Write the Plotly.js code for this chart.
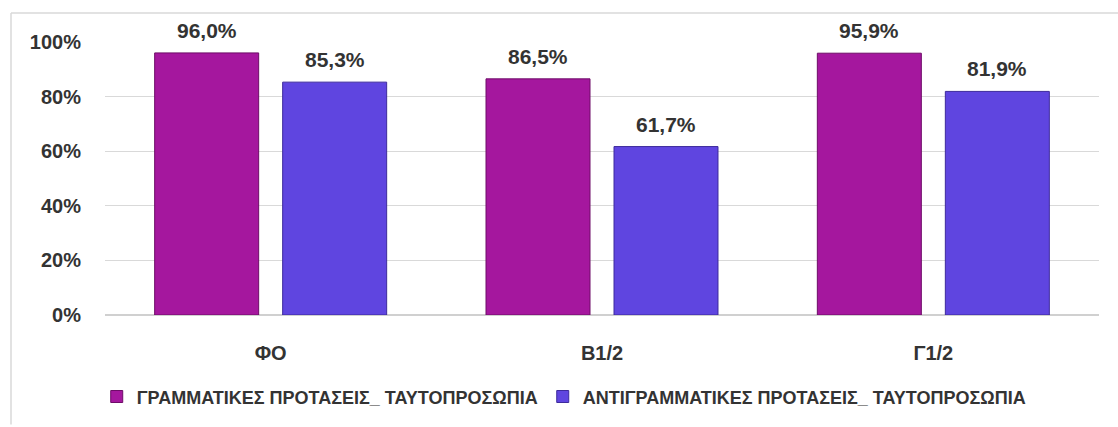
<!DOCTYPE html>
<html>
<head>
<meta charset="utf-8">
<script src="https://cdn.plot.ly/plotly-3.0.1.min.js"></script>
<style>
html,body{margin:0;padding:0;background:#fff;}
#chart{width:1118px;height:427px;}
</style>
</head>
<body>
<div id="chart"></div>
<script>
var categories = ["ΦΟ", "B1/2", "Γ1/2"];
var seriesNames = ["ΓΡΑΜΜΑΤΙΚΕΣ ΠΡΟΤΑΣΕΙΣ_ ΤΑΥΤΟΠΡΟΣΩΠΙΑ", "ΑΝΤΙΓΡΑΜΜΑΤΙΚΕΣ ΠΡΟΤΑΣΕΙΣ_ ΤΑΥΤΟΠΡΟΣΩΠΙΑ"];
var grammatical = [0.960, 0.865, 0.959];
var ungrammatical = [0.853, 0.617, 0.819];
var yTickVals = [0, 0.2, 0.4, 0.6, 0.8, 1.0];

var FONT = "'Liberation Sans', Arial, sans-serif";
var TXT = "#333333";
var colors = ["#a5179e", "#5f45e0"];
var edge = ["#6e0c68", "#3d2a9c"];

function fmt(v){ return (v*100).toFixed(1).replace('.', ',') + '%'; }

var allSeries = [grammatical, ungrammatical];
var traces = allSeries.map(function(vals, i){
  return {
    type: 'bar',
    name: seriesNames[i],
    x: categories,
    y: vals,
    marker: {color: colors[i], line: {color: edge[i], width: 1}},
    hoverinfo: 'x+y'
  };
});

var plotW = 1118 - 105 - 19;
var bargap = 0.2274;
var bargroupgap = 0.1875;
var slot = plotW / categories.length * (1 - bargap) / 2;
var annotations = [];
allSeries.forEach(function(vals, i){
  vals.forEach(function(v, j){
    annotations.push({
      x: categories[j], y: v, xref: 'x', yref: 'y',
      text: fmt(v), showarrow: false,
      xanchor: 'center', yanchor: 'bottom',
      xshift: (i === 0 ? -1 : 1) * slot / 2,
      yshift: 9,
      font: {family: FONT, size: 21, color: TXT, weight: 'bold'}
    });
  });
});

var px = function(x){ return (x - 105) / plotW; };
var py = function(y){ return (319 - y) / 277; };

var layout = {
  width: 1118, height: 427,
  margin: {l: 105, r: 19, t: 42, b: 108, pad: 0},
  paper_bgcolor: '#ffffff', plot_bgcolor: '#ffffff',
  separators: ',.',
  barmode: 'group',
  bargap: bargap,
  bargroupgap: bargroupgap,
  font: {family: FONT, color: TXT},
  xaxis: {
    type: 'category',
    showgrid: false, zeroline: false, showline: false,
    ticks: 'outside', ticklen: 20, tickcolor: 'rgba(0,0,0,0)',
    tickfont: {family: FONT, size: 20, color: TXT, weight: 'bold'}
  },
  yaxis: {
    range: [0, 1],
    tickvals: yTickVals,
    tickformat: '.0%',
    showgrid: true, gridcolor: '#d9d9d9', gridwidth: 1,
    zeroline: true, zerolinecolor: '#d0d0d0', zerolinewidth: 2,
    showline: false,
    ticks: 'outside', ticklen: 19, tickcolor: 'rgba(0,0,0,0)',
    tickfont: {family: FONT, size: 20, color: TXT, weight: 'bold'}
  },
  showlegend: true,
  legend: {
    orientation: 'h',
    x: 0.462, xanchor: 'center',
    y: py(402), yanchor: 'middle',
    font: {family: FONT, size: 18, color: TXT, weight: 'bold'},
    itemwidth: 30,
    traceorder: 'normal'
  },
  annotations: annotations,
  shapes: [
    {type: 'line', xref: 'paper', yref: 'paper', x0: px(11), x1: px(1120), y0: py(12.5), y1: py(12.5), line: {color: '#d9d9d9', width: 1.5}},
    {type: 'line', xref: 'paper', yref: 'paper', x0: px(11), x1: px(11), y0: py(12.5), y1: py(430), line: {color: '#d9d9d9', width: 1.5}}
  ]
};

Plotly.newPlot('chart', traces, layout, {displayModeBar: false, staticPlot: true});
</script>
</body>
</html>
